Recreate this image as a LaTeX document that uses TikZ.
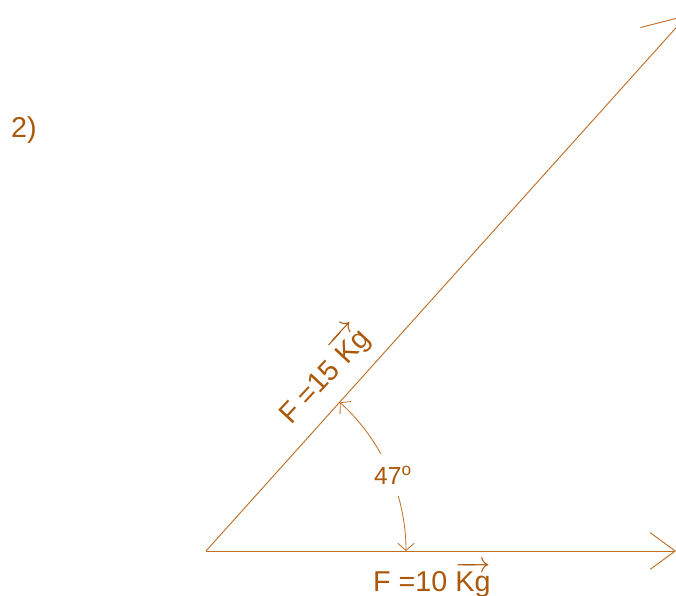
\documentclass[tikz,border=0pt]{standalone}
\usepackage{fontspec}
\setmainfont{Liberation Sans}
\usepackage{amsmath}
\usetikzlibrary{arrows.meta, positioning}
\definecolor{inkbrown}{RGB}{172,88,10}
\definecolor{linebrown}{RGB}{190,112,40}
\tikzstyle{vec} = [draw=linebrown, line width=0.8pt, line join=miter]

\begin{document}
\begin{tikzpicture}[x=0.03cm, y=0.03cm,
    lbl/.style={text=inkbrown, font=\fontsize{24.5}{29}\selectfont, inner sep=0pt},
    ang/.style={draw=linebrown, line width=0.7pt, -{Straight Barb[length=0.22cm, width=0.5cm]}}]

  \useasboundingbox (0,0) rectangle (676,596);
  \clip (0,0) rectangle (676,596);

  \coordinate (O) at (206,45);
  \coordinate (tipA) at (687.5,581);
  \coordinate (tipB) at (676,45);

  \draw[vec, -{Straight Barb[length=1.2cm, width=1.6cm]}] (O) -- (tipA);
  \draw[vec, -{Straight Barb[length=0.75cm, width=1.1cm]}] (O) -- (tipB);

  % angle between the two forces
  \draw[ang] ([shift={(29:200)}]O) arc[start angle=29, end angle=48, radius=200];
  \draw[ang] ([shift={(16:200)}]O) arc[start angle=16, end angle=0, radius=200];

  \node[lbl, anchor=base west] (num) at (11,458) {2)};
  \node[lbl, font=\fontsize{21}{25}\selectfont] (deg) at (393,121) {47\textsuperscript{o}};
  \node[lbl, anchor=base west, rotate=47] (f15) at (291,170) {F =15 $\overrightarrow{\text{Kg}}$};
  \node[lbl, anchor=base west] (f10) at (373,4) {F =10 $\overrightarrow{\text{Kg}}$};
\end{tikzpicture}
\end{document}
